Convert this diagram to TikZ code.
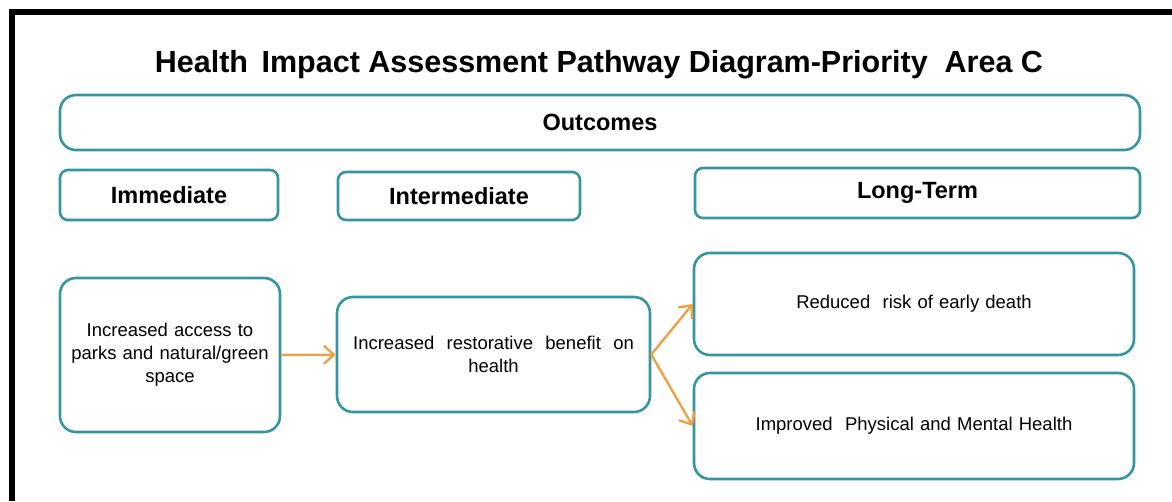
\documentclass[tikz,border=0pt]{standalone}
\usepackage{fontspec}
\setmainfont{Liberation Sans}
\usetikzlibrary{arrows.meta}
\definecolor{teal1}{RGB}{52,150,158}
\definecolor{orange1}{RGB}{240,160,70}
\tikzset{
  headbox/.style={draw=teal1, line width=2.6pt, rounded corners=8pt, inner sep=0pt,
    font=\fontsize{23.5}{26}\selectfont\bfseries},
  stepbox/.style={draw=teal1, line width=2.6pt, rounded corners=16pt, inner sep=4pt,
    align=center, font=\fontsize{18.5}{23}\selectfont},
  flow/.style={draw=orange1, line width=2.4pt, -{Straight Barb[length=10pt, width=18pt, line width=2.4pt]}}
}
\begin{document}
\begin{tikzpicture}[x=1pt, y=-1pt]
            \useasboundingbox (0,0) rectangle (1172,501);
            \fill[white] (0,0) rectangle (1172,501);
            \draw[line width=6pt] (12,501) -- (12,12) -- (1172,12);

            \node[font=\fontsize{30.5}{34}\selectfont\bfseries, anchor=base] (title) at (599,72)
              {Health\ \,Impact Assessment Pathway Diagram-Priority\ \ Area C};

            \node[headbox, rounded corners=16pt, minimum width=1080pt, minimum height=55pt] (outcomes) at (600,122.5) {Outcomes};
            \node[headbox, minimum width=218pt, minimum height=50pt] (immediate) at (169,195) {Immediate};
            \node[headbox, minimum width=242pt, minimum height=48pt] (intermediate) at (459,196) {Intermediate};
            \node[headbox, minimum width=445pt, minimum height=50pt] (longterm) at (917.5,193) {Long-Term};

            \node[stepbox, minimum width=220pt, minimum height=154pt, text width=212pt] (access) at (170,355)
              {Increased access to\\ parks and natural/green\\ space};
            \node[stepbox, minimum width=313pt, minimum height=115pt, text width=300pt] (benefit) at (493.5,354.5)
              {Increased\ \ restorative\ \ benefit\ \ on\\ health};
            \node[stepbox, minimum width=440pt, minimum height=102pt, text width=430pt] (death) at (914,304)
              {Reduced\ \ risk of early death};
            \node[stepbox, minimum width=440pt, minimum height=106pt, text width=430pt] (health) at (914,426)
              {Improved\ \ Physical and Mental Health};

            \draw[flow] (access) -- (benefit);
            \draw[flow] (benefit.east) -- (death.west);
            \draw[flow] (benefit.east) -- (health.west);
        \end{tikzpicture}
\end{document}
